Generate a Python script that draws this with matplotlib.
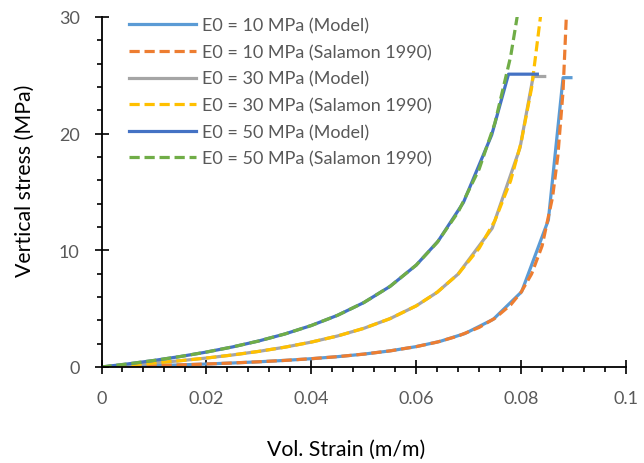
import numpy as np
import matplotlib.pyplot as plt
from matplotlib.ticker import MultipleLocator, FuncFormatter

plt.rcParams['font.family'] = ['Lato', 'DejaVu Sans']

# Salamon (1990) curves
salStrain10 = [0, 0.005, 0.01, 0.015, 0.02, 0.025, 0.03, 0.035, 0.04, 0.045, 0.05, 0.055, 0.06,
               0.064, 0.068, 0.072, 0.075, 0.078, 0.08, 0.082, 0.084, 0.086, 0.087, 0.088, 0.089]
salStress10 = [0, 0.053, 0.112, 0.179, 0.256, 0.344, 0.447, 0.567, 0.711, 0.886, 1.104, 1.381, 1.747,
               2.135, 2.656, 3.392, 4.180, 5.320, 6.414, 7.974, 10.375, 14.557, 18.072, 23.656, 33.892]

salStrain30 = [0, 0.005, 0.01, 0.015, 0.02, 0.025, 0.03, 0.035, 0.04, 0.045, 0.05, 0.055, 0.06,
               0.064, 0.068, 0.072, 0.075, 0.078, 0.08, 0.082, 0.084]
salStress30 = [0, 0.159, 0.337, 0.538, 0.768, 1.032, 1.340, 1.702, 2.134, 2.659, 3.312, 4.143, 5.240,
               6.405, 7.968, 10.177, 12.540, 15.961, 19.242, 23.921, 31.126]

salStrain50 = [0, 0.005, 0.01, 0.015, 0.02, 0.025, 0.03, 0.035, 0.04, 0.045, 0.05, 0.055, 0.06,
               0.064, 0.068, 0.072, 0.075, 0.078, 0.08]
salStress50 = [0, 0.264, 0.561, 0.897, 1.280, 1.721, 2.233, 2.836, 3.556, 4.432, 5.519, 6.905, 8.733,
               10.675, 13.280, 16.961, 20.900, 26.601, 32.069]

# Model curves (polylines with a flat last step)
modStrain10 = [0, 0.005, 0.01, 0.015, 0.02, 0.025, 0.03, 0.035, 0.04, 0.045, 0.05, 0.055, 0.06,
               0.0645, 0.0693, 0.0747, 0.0801, 0.0852, 0.088, 0.0895]
modStress10 = [0, 0.053, 0.112, 0.179, 0.256, 0.344, 0.447, 0.567, 0.711, 0.886, 1.104, 1.381, 1.747,
               2.19, 2.87, 4.09, 6.45, 12.6, 24.8, 24.8]

modStrain30 = [0, 0.005, 0.01, 0.015, 0.02, 0.025, 0.03, 0.035, 0.04, 0.045, 0.05, 0.055, 0.06,
               0.064, 0.068, 0.0745, 0.0798, 0.0823, 0.0845]
modStress30 = [0, 0.159, 0.337, 0.538, 0.768, 1.032, 1.340, 1.702, 2.134, 2.659, 3.312, 4.143, 5.240,
               6.405, 7.968, 11.9, 18.8, 24.9, 24.9]

modStrain50 = [0, 0.005, 0.01, 0.015, 0.02, 0.025, 0.03, 0.035, 0.04, 0.045, 0.05, 0.055, 0.06,
               0.0642, 0.069, 0.0744, 0.0776, 0.0831]
modStress50 = [0, 0.264, 0.561, 0.897, 1.280, 1.721, 2.233, 2.836, 3.556, 4.432, 5.519, 6.905, 8.733,
               10.8, 14.1, 19.9, 25.1, 25.1]

labels = ['E0 = 10 MPa (Model)', 'E0 = 10 MPa (Salamon 1990)',
          'E0 = 30 MPa (Model)', 'E0 = 30 MPa (Salamon 1990)',
          'E0 = 50 MPa (Model)', 'E0 = 50 MPa (Salamon 1990)']

fig = plt.figure(figsize=(6.44, 4.64), dpi=100)
ax = fig.add_axes([101.5 / 644, 96 / 464, 524.5 / 644, 350 / 464])

lw = 2.3
dash = (3.2, 1.5)
ax.plot(modStrain10, modStress10, color='#5B9BD5', lw=lw, label=labels[0])
ax.plot(salStrain10, salStress10, color='#ED7D31', lw=lw, dashes=dash, label=labels[1])
ax.plot(modStrain30, modStress30, color='#A5A5A5', lw=lw, label=labels[2])
ax.plot(salStrain30, salStress30, color='#FFC000', lw=lw, dashes=dash, label=labels[3])
ax.plot(modStrain50, modStress50, color='#4472C4', lw=lw, label=labels[4])
ax.plot(salStrain50, salStress50, color='#70AD47', lw=lw, dashes=dash, label=labels[5])

ax.set_xlim(0, 0.1)
ax.set_ylim(0, 30)

# axes look like Excel: only left/bottom, crossing major ticks
ax.spines['top'].set_visible(False)
ax.spines['right'].set_visible(False)
ax.spines['left'].set_linewidth(1.3)
ax.spines['bottom'].set_linewidth(1.3)
ax.xaxis.set_major_locator(MultipleLocator(0.02))
ax.xaxis.set_minor_locator(MultipleLocator(0.004))
ax.yaxis.set_major_locator(MultipleLocator(10))
ax.yaxis.set_minor_locator(MultipleLocator(2))
ax.xaxis.set_major_formatter(FuncFormatter(lambda v, p: '{:g}'.format(round(v, 3))))
ax.tick_params(which='major', direction='inout', length=9.5, width=1.2, labelsize=13, labelcolor='#595959')
ax.tick_params(which='minor', direction='out', length=3.8, width=1.2)
ax.tick_params(axis='x', which='major', pad=12)
ax.tick_params(axis='y', which='major', pad=11)

ax.set_xlabel('Vol. Strain (m/m)', fontsize=15.3)
ax.set_ylabel('Vertical stress (MPa)', fontsize=15.3)
ax.xaxis.set_label_coords(0.466, -0.205)
ax.yaxis.set_label_coords(-0.128, 0.534)

leg = ax.legend(loc='upper left', bbox_to_anchor=(129 / 644, 1 - 18.5 / 464), bbox_transform=fig.transFigure,
                frameon=False, fontsize=13, handlelength=3.7, handletextpad=0.37, labelspacing=0.58,
                borderpad=0, borderaxespad=0)
for t in leg.get_texts():
    t.set_color('#595959')

fig.savefig('out.png', dpi=100)
